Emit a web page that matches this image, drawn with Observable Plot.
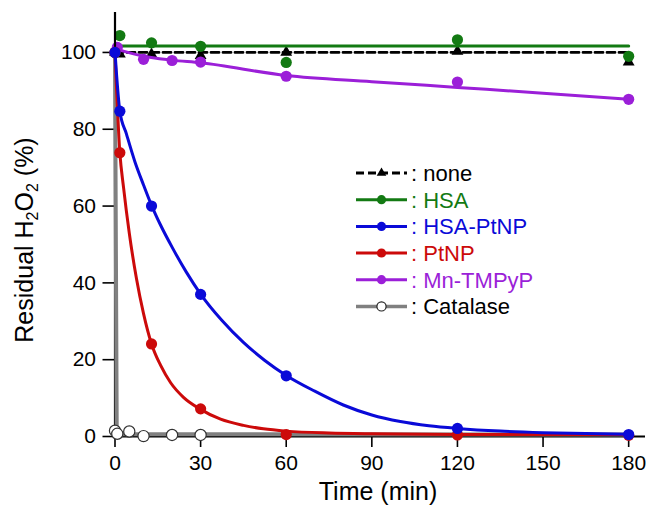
<!DOCTYPE html>
<html><head><meta charset="utf-8">
<script src="https://cdn.jsdelivr.net/npm/d3@7"></script>
<script src="https://cdn.jsdelivr.net/npm/@observablehq/plot@0.6"></script>
<style>body{margin:0;background:#fff} svg{display:block}</style>
</head><body><div id="chart"></div>
<script>
const FONT = "'Liberation Sans', Arial, Helvetica, sans-serif";

// ---- data ----
const xTicks = [0, 30, 60, 90, 120, 150, 180];
const yTicks = [0, 20, 40, 60, 80, 100];

const timeMain = [0, 1.7, 12.8, 30, 60, 120, 180];
const noneVals = [100, 99.6, 99.5, 99.2, 100, 100.3, 97.5];
const hsaVals = [100, 104.4, 102.5, 101.6, 97.4, 103.3, 99];
const hsaPtVals = [100, 84.7, 60, 37, 15.8, 2.1, 0.5];
const ptVals = [100, 73.9, 24.1, 7.2, 0.5, 0.4, 0.3];

const timeMn = [0.8, 10, 20, 30, 60, 120, 180];
const mnVals = [101.3, 98.2, 97.9, 97.5, 93.8, 92.3, 87.8];

const timeCat = [0, 0.8, 5, 10, 20, 30];
const catVals = [1.5, 0.7, 1.3, 0.1, 0.4, 0.4];

// fitted curves
const noneFitT = [0, 180], noneFitV = [100, 100];
const hsaFitT = [0, 180], hsaFitV = [101.7, 101.7];
const hsaPtFitT = [0, 1.7, 4, 7, 10, 12.8, 16, 20, 25, 30, 37.5, 45, 52.5, 60, 70, 80, 90, 100, 110, 120, 135, 150, 165, 180];
const hsaPtFitV = [100, 84.7, 78.8, 71.5, 65.5, 60.2, 55, 49.3, 42.8, 37.1, 30.2, 24.5, 19.8, 15.9, 11.8, 8.2, 5.6, 3.9, 2.8, 2.1, 1.4, 1.0, 0.75, 0.6];
const ptFitT = [0, 1.7, 3, 5, 7.5, 10, 12.8, 16, 19.5, 24, 29.7, 37, 45, 52, 60, 75, 90, 120, 180];
const ptFitV = [100, 73.9, 64.8, 53, 41.2, 32, 24.1, 18.5, 14, 10.2, 7.2, 4.5, 2.9, 2.0, 1.4, 0.9, 0.7, 0.55, 0.5];
const mnFitT = [0.8, 10, 20, 30, 60, 90, 120, 150, 180];
const mnFitV = [100.8, 99, 98, 97.3, 94, 92.4, 90.9, 89.4, 87.8];
const catFitT = [0, 0.6, 1.5, 180];
const catFitV = [100, 2, 0.6, 0.5];

const names = ["none", "HSA", "HSA-PtNP", "PtNP", "Mn-TMPyP", "Catalase"];
const colors = ["#000000", "#137a13", "#0a0ad8", "#cc0a0a", "#9b1fd8", "#808080"];
const textColors = ["#000000", "#137a13", "#0a0ad8", "#cc0a0a", "#9b1fd8", "#000000"];

const zip = (t, v) => t.map((x, i) => ({t: x, v: v[i]}));
const C = Object.fromEntries(names.map((n, i) => [n, colors[i]]));
const R = 5.6;

const plot = Plot.plot({
  width: 648, height: 514,
  marginLeft: 114.5, marginRight: 3, marginTop: 12, marginBottom: 78,
  style: {fontFamily: FONT, background: "white", color: "black", overflow: "visible"},
  x: {domain: [0, 185.9]},
  y: {domain: [0, 110.4]},
  marks: [
    Plot.axisX({ticks: xTicks, tickSize: 11, tickPadding: 8, fontSize: 21, label: null, strokeWidth: 1.6}),
    Plot.axisY({ticks: yTicks, tickSize: 12, tickPadding: 7, fontSize: 21, label: null, strokeWidth: 1.6}),
    // none
    Plot.line(zip(noneFitT, noneFitV), {x: "t", y: "v", stroke: C["none"], strokeWidth: 2.8, strokeDasharray: "8,4"}),
    Plot.dot(zip(timeMain, noneVals), {x: "t", y: "v", symbol: "triangle", r: 4.4, fill: C["none"], stroke: "none"}),
    // HSA
    Plot.line(zip(hsaFitT, hsaFitV), {x: "t", y: "v", stroke: C["HSA"], strokeWidth: 3}),
    Plot.dot(zip(timeMain, hsaVals), {x: "t", y: "v", r: R, fill: C["HSA"], stroke: "none"}),
    // Mn-TMPyP
    Plot.line(zip(mnFitT, mnFitV), {x: "t", y: "v", stroke: C["Mn-TMPyP"], strokeWidth: 3, curve: "monotone-x"}),
    Plot.dot(zip(timeMn, mnVals), {x: "t", y: "v", r: R, fill: C["Mn-TMPyP"], stroke: "none"}),
    // axis lines
    Plot.ruleX([0], {stroke: "black", strokeWidth: 2.2}),
    Plot.ruleY([0], {stroke: "black", strokeWidth: 2.2}),
    // Catalase
    Plot.line(zip(catFitT, catFitV), {x: "t", y: "v", stroke: C["Catalase"], strokeWidth: 4}),
    Plot.dot(zip(timeCat, catVals), {x: "t", y: "v", r: R, fill: "white", stroke: "#333", strokeWidth: 1.2}),
    // PtNP
    Plot.line(zip(ptFitT, ptFitV), {x: "t", y: "v", stroke: C["PtNP"], strokeWidth: 3, curve: "monotone-x"}),
    Plot.dot(zip(timeMain, ptVals), {x: "t", y: "v", r: R, fill: C["PtNP"], stroke: "none"}),
    // HSA-PtNP
    Plot.line(zip(hsaPtFitT, hsaPtFitV), {x: "t", y: "v", stroke: C["HSA-PtNP"], strokeWidth: 3, curve: "monotone-x"}),
    Plot.dot(zip(timeMain, hsaPtVals), {x: "t", y: "v", r: R, fill: C["HSA-PtNP"], stroke: "none"})
  ]
});

const svg = d3.select(plot);

// axis titles
svg.append("text")
  .attr("x", 378).attr("y", 500)
  .attr("text-anchor", "middle")
  .attr("font-family", FONT).attr("font-size", 25).attr("fill", "black")
  .text("Time (min)");

const yt = svg.append("text")
  .attr("transform", "translate(33,240) rotate(-90)")
  .attr("text-anchor", "middle")
  .attr("font-family", FONT).attr("font-size", 25).attr("fill", "black");
yt.append("tspan").text("Residual H");
yt.append("tspan").attr("font-size", 16).attr("dy", 5).text("2");
yt.append("tspan").attr("dy", -5).text("O");
yt.append("tspan").attr("font-size", 16).attr("dy", 5).text("2");
yt.append("tspan").attr("dy", -5).text(" (%)");

// legend
const lg = svg.append("g");
const rowY = [173, 199.7, 226.4, 253, 279.7, 306.4];
names.forEach((n, i) => {
  const y = rowY[i];
  const g = lg.append("g");
  if (n === "none") {
    g.append("line").attr("x1", 356).attr("x2", 407).attr("y1", y).attr("y2", y)
      .attr("stroke", "black").attr("stroke-width", 2.8).attr("stroke-dasharray", "8,4");
    g.append("path").attr("d", d3.symbol(d3.symbolTriangle, 40)())
      .attr("transform", `translate(381.5,${y})`).attr("fill", "black");
  } else {
    g.append("line").attr("x1", 356).attr("x2", 407).attr("y1", y).attr("y2", y)
      .attr("stroke", colors[i]).attr("stroke-width", n === "Catalase" ? 3.5 : 3);
    g.append("circle").attr("cx", 381.5).attr("cy", y).attr("r", 4.6)
      .attr("fill", n === "Catalase" ? "white" : colors[i])
      .attr("stroke", n === "Catalase" ? "#222" : "none").attr("stroke-width", 1.2);
  }
  g.append("text").attr("x", 411).attr("y", y + 8)
    .attr("text-anchor", "start")
    .attr("font-family", FONT).attr("font-size", 22).attr("fill", textColors[i])
    .text(": " + n);
});

document.getElementById("chart").appendChild(plot);
</script>
</body></html>
